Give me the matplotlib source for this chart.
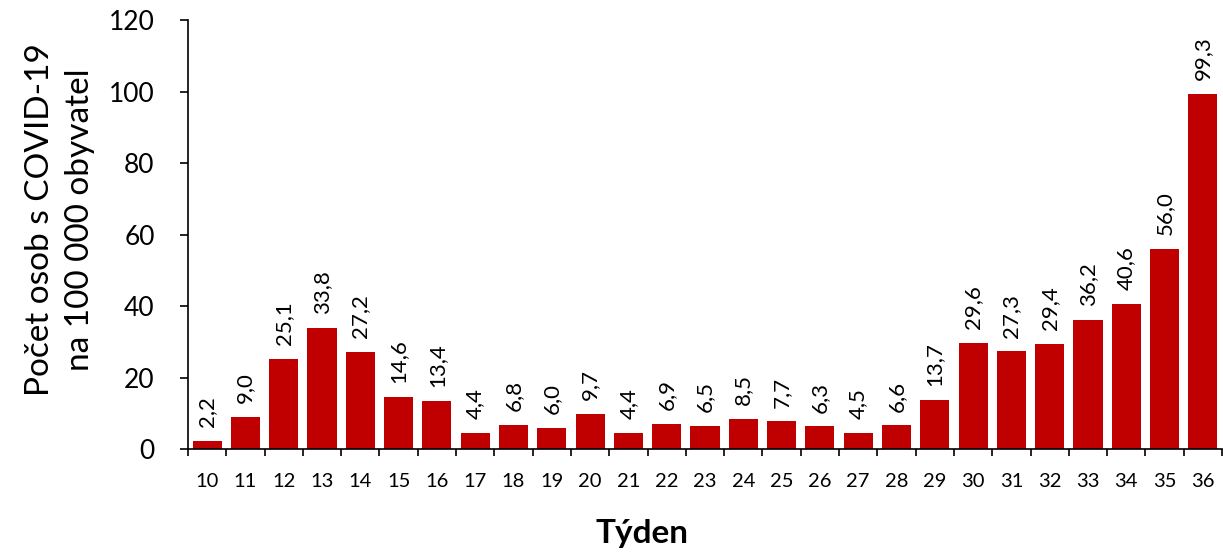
import matplotlib
matplotlib.use("Agg")
import matplotlib.pyplot as plt
import numpy as np

weeks = list(range(10, 37))
values = [2.2, 9.0, 25.1, 33.8, 27.2, 14.6, 13.4, 4.4, 6.8, 6.0, 9.7, 4.4, 6.9, 6.5,
          8.5, 7.7, 6.3, 4.5, 6.6, 13.7, 29.6, 27.3, 29.4, 36.2, 40.6, 56.0, 99.3]
yticks = [0, 20, 40, 60, 80, 100, 120]

plt.rcParams['font.family'] = ['Lato', 'DejaVu Sans']

W, H = 1223, 553
fig = plt.figure(figsize=(W/100, H/100), dpi=100)
ax = fig.add_axes([188/W, 1-449/H, 1034/W, (449-20)/H])

x = np.arange(len(weeks))
bars = ax.bar(x, values, width=0.76, color='#C00000')
for xi, v in zip(x, values):
    ax.annotate(f"{v:.1f}".replace('.', ','), (xi, v), xytext=(0, 10),
                textcoords='offset points', rotation=90, ha='center', va='bottom',
                fontsize=16)

ax.set_xlim(-0.5, len(weeks) - 0.5)
ax.set_ylim(0, 120)
ax.set_yticks(yticks)
ax.set_yticklabels([str(t) for t in yticks], fontsize=19)
ax.set_xticks(x)
ax.set_xticklabels([str(w) for w in weeks], fontsize=14.5)
ax.tick_params(axis='x', length=0, pad=17)
ax.set_xticks(np.arange(-0.5, len(weeks), 1), minor=True)
ax.tick_params(axis='x', which='minor', length=5, direction='out', width=1.2)
ax.tick_params(axis='y', length=6, direction='out', width=1.2, pad=18)
for s in ['top', 'right']:
    ax.spines[s].set_visible(False)
for s in ['left', 'bottom']:
    ax.spines[s].set_linewidth(1.2)

fig.text(60/W, 1-220/H, "Počet osob s COVID-19\nna 100 000 obyvatel", fontsize=24,
         rotation=90, ha='center', va='center', multialignment='center', linespacing=1.45)
fig.text(642/W, 1-533/H, "Týden", fontsize=24, fontweight='bold', ha='center', va='center')

fig.savefig("out.png", dpi=100)
